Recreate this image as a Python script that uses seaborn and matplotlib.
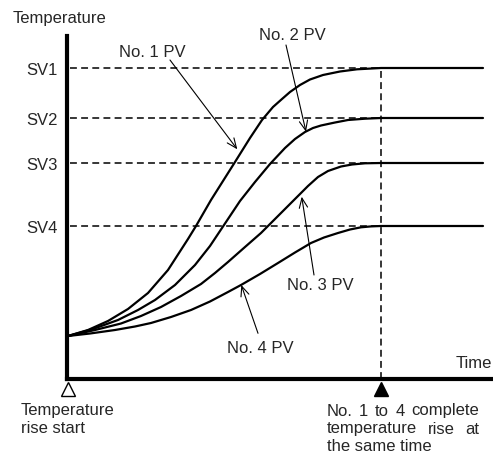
import matplotlib
matplotlib.use("Agg")
import matplotlib.pyplot as plt
import pandas as pd
import seaborn as sns

# Set values (arbitrary temperature units above the starting temperature)
sv_labels = ["SV1", "SV2", "SV3", "SV4"]
sv_values = [268.0, 218.0, 173.0, 110.0]

# Rise curves: time (arbitrary units, common completion at t = 313) and process value
pv_labels = ["No. 1 PV", "No. 2 PV", "No. 3 PV", "No. 4 PV"]
time1 = [0, 20, 40, 60, 80, 100, 120, 128, 143, 155, 167, 182, 194, 205, 214, 222,
         232, 242, 255, 272, 289, 313, 415]
pv1 = [0, 6, 15, 27, 43, 66, 97, 110, 136, 155, 174, 198, 216, 229, 237, 244,
       251, 256.5, 261, 264.5, 266.7, 268, 268]
time2 = [0, 25, 50, 70, 87, 107, 127, 142, 154, 172, 187, 202, 217, 227, 237, 245,
         253, 267, 280, 297, 313, 415]
pv2 = [0, 7, 16, 26, 36, 51, 71, 90, 108, 135, 154, 172, 188, 197, 204, 208,
       210.5, 213.5, 216, 217.3, 218, 218]
time3 = [0, 27, 53, 73, 93, 113, 133, 147, 160, 177, 193, 210, 228, 240, 250, 260,
         273, 284, 297, 313, 415]
pv3 = [0, 6, 12.5, 20, 29, 40, 52, 63, 74, 89, 103, 120, 138, 150, 159, 165,
       169.5, 171.5, 172.7, 173, 173]
time4 = [0, 22, 47, 67, 83, 103, 123, 142, 160, 173, 192, 210, 227, 243, 256, 270,
         282, 293, 303, 313, 415]
pv4 = [0, 2.5, 6, 9.5, 13, 19, 26, 34.5, 44, 51, 62, 73, 83.5, 93, 98.5, 103,
       106.5, 108.7, 109.6, 110, 110]

t_start = 0.0
t_complete = 313.0
t_end = 415.0

frames = []
for name, t, v in zip(pv_labels, [time1, time2, time3, time4], [pv1, pv2, pv3, pv4]):
    frames.append(pd.DataFrame({"time": t, "temp": v, "series": name}))
df = pd.concat(frames, ignore_index=True)

sns.set_theme(style="white")
plt.rcParams["font.family"] = ["Liberation Sans", "DejaVu Sans"]
FS = 12

fig = plt.figure(figsize=(4.93, 4.53), dpi=100)
ax = fig.add_axes([67 / 493, 74.3 / 453, 426 / 493, 342.7 / 453])

sns.lineplot(data=df, x="time", y="temp", hue="series", estimator=None, sort=False,
             palette={n: "black" for n in pv_labels}, linewidth=1.6, legend=False, ax=ax)
for ln in ax.get_lines():
    ln.set_solid_joinstyle("round")

y_bottom, y_top = -42.7, 300.0
ax.set_xlim(-1, 425)
ax.set_ylim(y_bottom, y_top)

# Set-value guide lines and labels
for lab, sv in zip(sv_labels, sv_values):
    ax.plot([t_start + 2, t_end], [sv, sv], color="black", lw=1.1,
            dashes=(4.5, 2.8), zorder=1)
    ax.text(-10.7, sv - 6.7, lab, ha="right", va="baseline", fontsize=FS, clip_on=False)

# Common completion time
ax.plot([t_complete, t_complete], [y_bottom, sv_values[0]], color="black", lw=1.1,
        dashes=(4.5, 2.8), zorder=1)

ax.set_xticks([])
ax.set_yticks([])
ax.set_xlabel("")
ax.set_ylabel("")
for side in ["top", "right"]:
    ax.spines[side].set_visible(False)
for side in ["left", "bottom"]:
    ax.spines[side].set_linewidth(3.0)
    ax.spines[side].set_color("black")
    ax.spines[side].set_capstyle("projecting")

# Start / completion markers under the time axis
ax.plot([t_start], [-53], marker="^", markersize=10.5, markerfacecolor="white",
        markeredgecolor="black", markeredgewidth=1.0, clip_on=False, ls="none")
ax.plot([t_complete], [-53], marker="^", markersize=10.5, markerfacecolor="black",
        markeredgecolor="black", clip_on=False, ls="none")

# Curve callouts: label position, arrow tail, arrow tip
callouts = [
    ("No. 1 PV", (51, 279.5), (102, 276), (169.3, 186.7)),
    ("No. 2 PV", (191.3, 296), (218, 291), (238, 204.3)),
    ("No. 3 PV", (219.3, 46), (246, 61), (233.7, 139.3)),
    ("No. 4 PV", (159.3, -16.7), (190, 2.7), (173.3, 51)),
]
for lab, txy, start, tip in callouts:
    ax.text(txy[0], txy[1], lab, ha="left", va="baseline", fontsize=FS, clip_on=False)
    ax.annotate("", xy=tip, xytext=start,
                arrowprops=dict(arrowstyle="->,head_length=0.7,head_width=0.3",
                                lw=0.8, color="black", shrinkA=0, shrinkB=0,
                                mutation_scale=10))

ax.text(423.7, -32, "Time", ha="right", va="baseline", fontsize=FS, clip_on=False)

W, H = 493.0, 453.0
fig.text(12.7 / W, 1 - 23 / H, "Temperature", ha="left", va="baseline", fontsize=FS)
fig.text(20.7 / W, 1 - 415 / H, "Temperature", ha="left", va="baseline", fontsize=FS)
fig.text(20.7 / W, 1 - 433.3 / H, "rise start", ha="left", va="baseline", fontsize=FS)


def justified_line(words, x0, x1, y):
    """Place words so the line fills x0..x1 (pixels)."""
    renderer = fig.canvas.get_renderer()
    items = [fig.text(0, 1 - y / H, w, ha="left", va="baseline", fontsize=FS) for w in words]
    widths = [t.get_window_extent(renderer).width for t in items]
    gap = (x1 - x0 - sum(widths)) / (len(words) - 1)
    x = x0
    for t, w in zip(items, widths):
        t.set_x(x / W)
        x += w + gap


justified_line(["No.", "1", "to", "4", "complete"], 326.7, 479.3, 415.5)
justified_line(["temperature", "rise", "at"], 326.7, 479.3, 433.5)
fig.text(326.7 / W, 1 - 451 / H, "the same time", ha="left", va="baseline", fontsize=FS)

fig.savefig("out.png", dpi=100)
